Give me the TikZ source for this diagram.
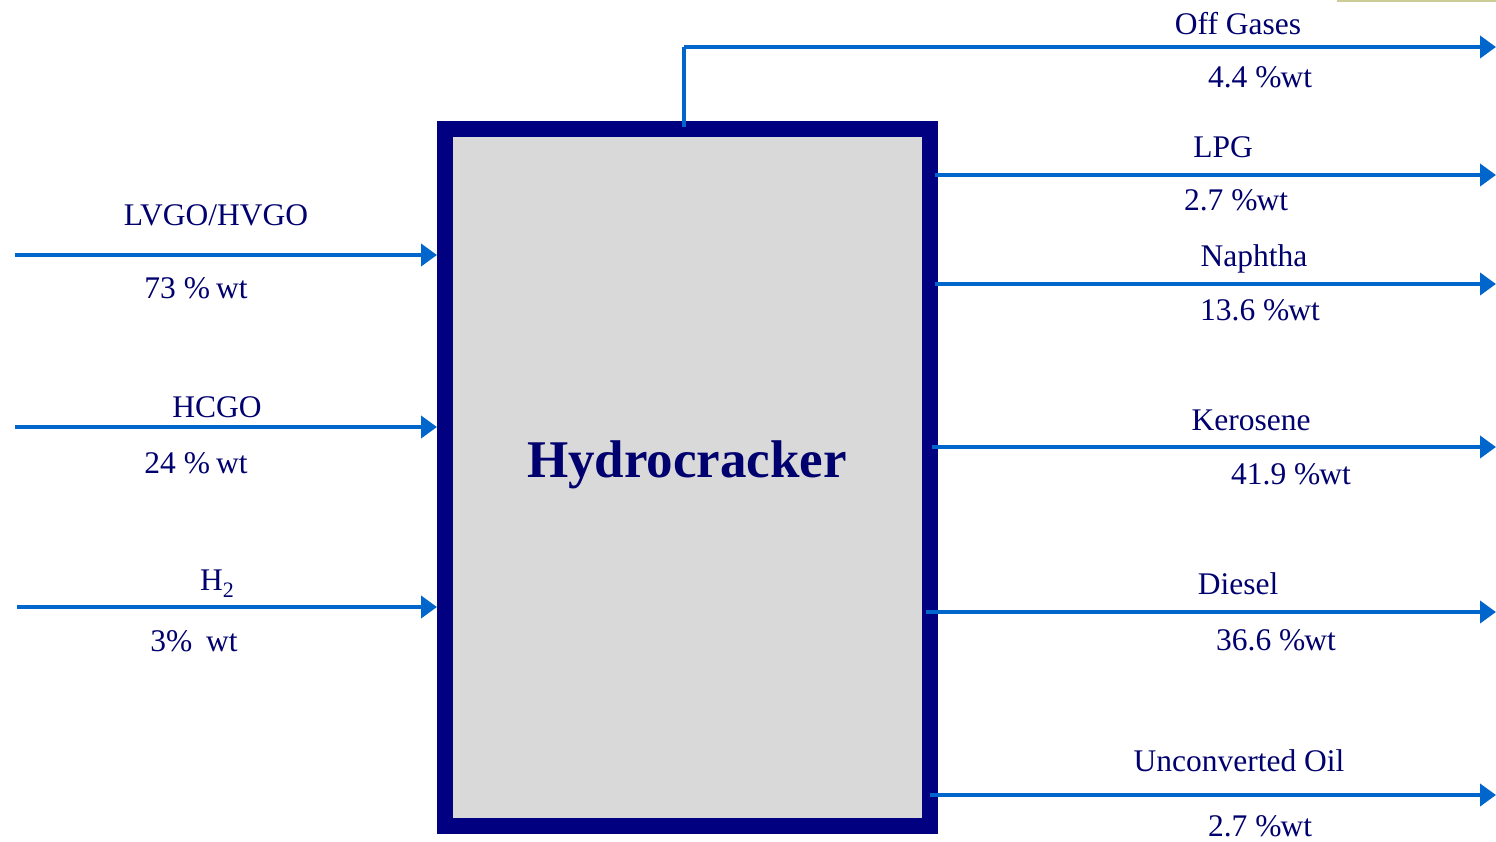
\documentclass[tikz,border=0pt]{standalone}
\usepackage{fontspec}
\setmainfont{Liberation Serif}
\usetikzlibrary{arrows.meta}
\definecolor{boxnavy}{RGB}{0,0,128}
\definecolor{txtnavy}{RGB}{0,0,110}
\definecolor{flowblue}{RGB}{0,102,204}
\definecolor{boxgray}{RGB}{217,217,217}
\definecolor{rulegold}{RGB}{204,204,150}
\tikzset{
  flow/.style={draw=flowblue, line width=4pt, -{Triangle[length=16pt,width=22pt]}},
  pipe/.style={draw=flowblue, line width=4pt},
  lbl/.style={text=txtnavy, font=\fontsize{31.5}{36}\selectfont, inner sep=0pt, anchor=base},
}
\begin{document}
\begin{tikzpicture}[x=1pt,y=-1pt]
\useasboundingbox (0,0) rectangle (1496,841);

% thin rule along the top edge
\draw[rulegold, line width=2pt] (1337,0.8) -- (1496,0.8);

% reactor block
\node[draw=boxnavy, line width=16pt, fill=boxgray, minimum width=485pt, minimum height=697pt,
      inner sep=0pt] (hc) at (687.5,477.5) {};
\node[text=txtnavy, font=\bfseries\fontsize{53}{60}\selectfont] (title) at (687,465) {Hydrocracker};

% feed streams
\coordinate (f1) at (15,255);
\coordinate (f2) at (15,427);
\coordinate (f3) at (17,607);
\draw[flow] (f1) -- (f1 -| hc.west);
\draw[flow] (f2) -- (f2 -| hc.west);
\draw[flow] (f3) -- (f3 -| hc.west);

\node[lbl] (l1) at (216,225) {LVGO/HVGO};
\node[lbl] (v1) at (196,298) {73 \%\hspace{6pt}wt};
\node[lbl] (l2) at (217,417) {HCGO};
\node[lbl] (v2) at (196,473) {24 \%\hspace{6pt}wt};
\node[lbl] (l3) at (217,590) {H\raisebox{-7pt}{\fontsize{22}{24}\selectfont 2}};
\node[lbl] (v3) at (194,651) {3\%\hspace{14pt}wt};

% product streams
\coordinate (g0) at (684,127);
\coordinate (g1) at (684,47);
\coordinate (g2) at (1496,47);
\draw[pipe] (g0) -- (g1);
\draw[flow] (g1) -- (g2);

\coordinate (p1) at (935,175);  \coordinate (q1) at (1496,175);
\coordinate (p2) at (935,284);  \coordinate (q2) at (1496,284);
\coordinate (p3) at (932,447);  \coordinate (q3) at (1496,447);
\coordinate (p4) at (926,612);  \coordinate (q4) at (1496,612);
\coordinate (p5) at (930,795);  \coordinate (q5) at (1496,795);
\draw[flow] (p1) -- (q1);
\draw[flow] (p2) -- (q2);
\draw[flow] (p3) -- (q3);
\draw[flow] (p4) -- (q4);
\draw[flow] (p5) -- (q5);

\node[lbl] (o0) at (1238,34) {Off Gases};
\node[lbl] (w0) at (1260,87) {4.4 \%\hspace{-1pt}wt};
\node[lbl] (o1) at (1223,157) {LPG};
\node[lbl] (w1) at (1236,210) {2.7 \%\hspace{-1pt}wt};
\node[lbl] (o2) at (1254,266) {Naphtha};
\node[lbl] (w2) at (1260,320) {13.6 \%\hspace{-1pt}wt};
\node[lbl] (o3) at (1251,430) {Kerosene};
\node[lbl] (w3) at (1291,484) {41.9 \%\hspace{-1pt}wt};
\node[lbl] (o4) at (1238,594) {Diesel};
\node[lbl] (w4) at (1276,650) {36.6 \%\hspace{-1pt}wt};
\node[lbl] (o5) at (1239,771) {Unconverted Oil};
\node[lbl] (w5) at (1260,836) {2.7 \%\hspace{-1pt}wt};
\end{tikzpicture}
\end{document}
